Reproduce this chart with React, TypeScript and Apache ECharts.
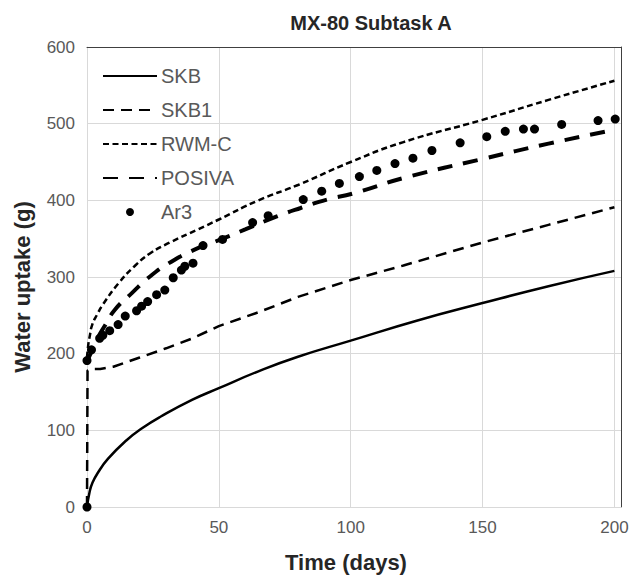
import React, { useEffect, useRef } from "react";
import * as echarts from "echarts";

const titleText = "MX-80 Subtask A";
const xName = "Time (days)";
const yName = "Water uptake (g)";
const yTicks = [0, 100, 200, 300, 400, 500, 600];
const xTicks = [0, 50, 100, 150, 200];

const skb: [number, number][] = [
  [0, 0], [1, 20], [2, 31], [4, 44], [8, 63], [15, 87], [21, 103], [28, 118],
  [40, 140], [50, 155], [65, 177], [80, 196], [100, 217], [125, 243], [150, 266],
  [175, 288], [200, 308],
];
const skb1: [number, number][] = [
  [0, 0], [0.2, 178], [2, 180], [5, 180], [10, 183], [20, 195], [30, 207], [40, 220],
  [50, 236], [65, 254], [80, 274], [100, 296], [120, 315], [150, 345], [175, 368], [200, 391],
];
const rwmc: [number, number][] = [
  [0, 195], [0.5, 212], [1, 222], [2, 238], [4, 252], [6, 264], [12, 292], [18, 314],
  [24, 331], [32, 346], [42, 362], [50, 375], [65, 400], [80, 420], [100, 450],
  [120, 476], [150, 505], [175, 531], [200, 556],
];
const posiva: [number, number][] = [
  [0, 190], [2, 205], [4, 220], [6.7, 236], [10.5, 257], [17, 279], [24, 301], [32, 320],
  [41, 336], [50, 348], [60, 362], [72, 379], [81, 390], [91, 401], [101, 409],
  [121, 430], [150, 454], [175, 474], [200, 492],
];
const ar3: [number, number][] = [
  [0, 0], [0, 191], [1.7, 205], [4.8, 220], [6, 224], [8.6, 230], [11.8, 238], [14.5, 249],
  [18.8, 256], [20.7, 262], [23, 268], [26.4, 277], [29.5, 283], [32.7, 299], [35.8, 309],
  [37.1, 314], [40.2, 318], [44, 341], [51.4, 349], [62.8, 371], [68.7, 380], [82, 401],
  [89, 412], [95.7, 422], [103.3, 431], [109.9, 439], [116.8, 448], [123.6, 455],
  [130.8, 465], [141.5, 475], [151.6, 483], [158.6, 490], [165.5, 493], [169.7, 493],
  [180, 499], [193.8, 504], [200.3, 506],
];

const FONT = "'Liberation Sans', Arial, sans-serif";

export default function App() {
  const ref = useRef<HTMLDivElement>(null);
  useEffect(() => {
    if (!ref.current) return;
    const chart = echarts.init(ref.current, undefined, { renderer: "svg" });
    const lineBase = {
      type: "line" as const,
      symbol: "none",
      showSymbol: false,
      color: "#000",
      z: 3,
    };
    const hidden = { opacity: 0 };
    chart.setOption({
      animation: false,
      backgroundColor: "#fff",
      textStyle: { fontFamily: FONT },
      title: {
        text: titleText,
        left: 366,
        textAlign: "center",
        top: 8,
        textStyle: { fontFamily: FONT, fontSize: 20, fontWeight: "bold", color: "#262626" },
      },
      legend: {
        orient: "vertical",
        left: 102,
        top: 66,
        padding: 0,
        itemWidth: 54,
        itemHeight: 8,
        itemGap: 14,
        textStyle: { fontFamily: FONT, fontSize: 20, color: "#595959", padding: [0, 0, 0, -1] },
        data: [
          { name: "SKB", itemStyle: hidden },
          { name: "SKB1", itemStyle: hidden },
          { name: "RWM-C", itemStyle: hidden },
          { name: "POSIVA", itemStyle: hidden },
          { name: "Ar3" },
        ],
      },
      graphic: [
        {
          type: "text",
          x: 346,
          y: 562,
          style: {
            text: xName,
            font: `bold 22px ${FONT}`,
            fill: "#262626",
            align: "center",
            verticalAlign: "middle",
          },
        },
        {
          type: "text",
          x: 22,
          y: 287,
          rotation: Math.PI / 2,
          style: {
            text: yName,
            font: `bold 22px ${FONT}`,
            fill: "#262626",
            align: "center",
            verticalAlign: "middle",
          },
        },
      ],
      grid: { left: 87, right: 14, top: 47, bottom: 72, containLabel: false },
      xAxis: [
        {
          type: "value",
          min: 0,
          max: 202.5,
          interval: 50,
          axisLine: { show: true, lineStyle: { color: "#d9d9d9", width: 1 } },
          axisTick: { show: false },
          axisLabel: {
            fontFamily: FONT,
            fontSize: 17,
            color: "#595959",
            margin: 12,
            formatter: (v: number) => (xTicks.includes(v) ? String(v) : ""),
          },
          splitLine: { show: true, lineStyle: { color: "#d9d9d9", width: 1 } },
        },
        {
          type: "value",
          position: "top",
          min: 0,
          max: 202.5,
          axisLine: { show: true, onZero: false, lineStyle: { color: "#404040", width: 1 } },
          axisTick: { show: false },
          axisLabel: { show: false },
          splitLine: { show: false },
        },
      ],
      yAxis: [
        {
          type: "value",
          min: 0,
          max: 600,
          interval: 100,
          axisLine: { show: true, lineStyle: { color: "#d9d9d9", width: 1 } },
          axisTick: { show: false },
          axisLabel: {
            fontFamily: FONT,
            fontSize: 17,
            color: "#595959",
            margin: 12,
            formatter: (v: number) => (yTicks.includes(v) ? String(v) : ""),
          },
          splitLine: { show: true, lineStyle: { color: "#d9d9d9", width: 1 } },
        },
        {
          type: "value",
          position: "right",
          min: 0,
          max: 600,
          axisLine: { show: true, onZero: false, lineStyle: { color: "#404040", width: 1 } },
          axisTick: { show: false },
          axisLabel: { show: false },
          splitLine: { show: false },
        },
      ],
      series: [
        {
          ...lineBase,
          name: "SKB",
          data: skb,
          smooth: 0.5,
          lineStyle: { color: "#000", width: 2.5, type: "solid" },
        },
        {
          ...lineBase,
          name: "SKB1",
          data: skb1,
          smooth: false,
          lineStyle: { color: "#000", width: 2.5, type: [11, 7] },
        },
        {
          ...lineBase,
          name: "RWM-C",
          data: rwmc,
          smooth: 0.5,
          lineStyle: { color: "#000", width: 2.5, type: [6, 3.5] },
        },
        {
          ...lineBase,
          name: "POSIVA",
          data: posiva,
          smooth: 0.5,
          lineStyle: { color: "#000", width: 4, type: [15, 11], cap: "butt" },
        },
        {
          type: "scatter",
          name: "Ar3",
          data: ar3,
          symbol: "circle",
          symbolSize: 9,
          itemStyle: { color: "#000", opacity: 1 },
          z: 4,
        },
      ],
    });
    return () => chart.dispose();
  }, []);
  return <div ref={ref} style={{ width: 635, height: 579, position: "absolute", left: 0, top: 0 }} />;
}
